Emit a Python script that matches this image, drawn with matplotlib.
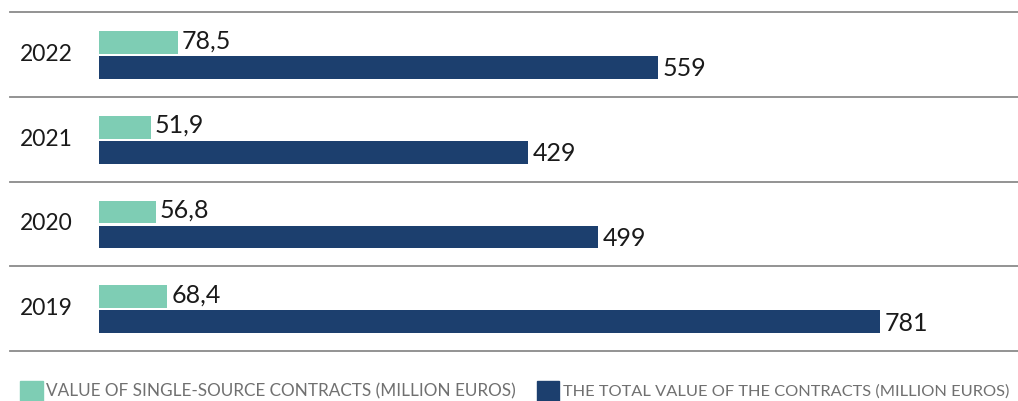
import matplotlib.pyplot as plt
import numpy as np

years = ['2022', '2021', '2020', '2019']
single_source = [78.5, 51.9, 56.8, 68.4]
total_value = [559, 429, 499, 781]
legend_labels = ['VALUE OF SINGLE-SOURCE CONTRACTS (MILLION EUROS)',
                 'THE TOTAL VALUE OF THE CONTRACTS (MILLION EUROS)']

green = '#7ecdb4'
navy = '#1c3f6e'
W, H = 1018, 401

plt.rcParams['font.family'] = ['Lato', 'DejaVu Sans']

fig = plt.figure(figsize=(W / 100, H / 100), dpi=100)
# axes covers the separator lines region: x 10..1018 px, y 12..351 px
ax = fig.add_axes([10 / W, 1 - 351 / H, 1008 / W, (351 - 12) / H])

y = np.arange(len(years))
bar_h = 0.27
ax.barh(y - 0.14, single_source, height=bar_h, color=green)
ax.barh(y + 0.155, total_value, height=bar_h, color=navy)

for i in range(len(years)):
    ax.text(single_source[i] + 4, y[i] - 0.16, f'{single_source[i]:.1f}'.replace('.', ','),
            va='center', ha='left', fontsize=18, color='#1a1a1a')
    ax.text(total_value[i] + 5, y[i] + 0.17, str(total_value[i]),
            va='center', ha='left', fontsize=18, color='#1a1a1a')
    ax.text(10 / 1008, y[i], years[i], transform=ax.get_yaxis_transform(),
            va='center', ha='left', fontsize=16.5, color='#1a1a1a')

for b in np.arange(len(years) + 1) - 0.5:
    ax.axhline(b, color='#8a8a8a', linewidth=1.3, clip_on=False)

ax.set_xlim(-89, 919)
ax.set_ylim(len(years) - 0.5, -0.5)
ax.axis('off')

# legend
fig.patches.append(plt.Rectangle((20 / W, 0), 23 / W, 20 / H, transform=fig.transFigure,
                                 color=green))
fig.text(46 / W, 2 / H, legend_labels[0], fontsize=12.3, color='#707070',
         ha='left', va='bottom')
fig.patches.append(plt.Rectangle((537 / W, 0), 22 / W, 20 / H, transform=fig.transFigure,
                                 color=navy))
fig.text(563 / W, 2 / H, legend_labels[1], fontsize=11.8, color='#707070',
         ha='left', va='bottom')

fig.savefig('out.png', dpi=100)
